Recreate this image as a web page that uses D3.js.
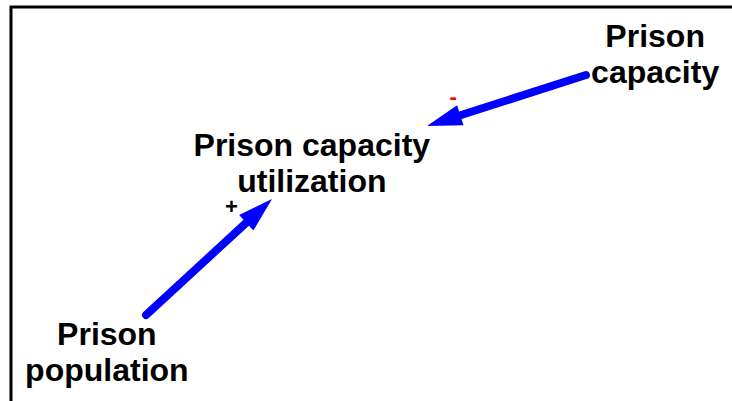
<!DOCTYPE html>
<html lang="en">
<head>
    <meta charset="UTF-8">
    <title>Prison capacity</title>
    <script src="https://cdn.jsdelivr.net/npm/d3@7"></script>
    <style>
        body { margin: 0; background: #fff; }
        text { font-family: "Liberation Sans", Arial, sans-serif; font-weight: bold; }
    </style>
</head>
<body>
<svg></svg>
<script>
    var width = 732;
    var height = 401;

    // variables of the loop diagram (x, y in percent of the page, y = first baseline)
    var nodeLabels = [["Prison", "capacity"], ["Prison capacity", "utilization"], ["Prison", "population"]];
    var nodeX = [89.5, 42.6, 14.6];
    var nodeY = [11.7, 38.9, 86.0];

    // causal links: tail and tip in percent, and polarity
    var linkFrom = [[80.05, 18.7], [19.95, 78.55]];
    var linkTo = [[58.33, 31.42], [37.16, 49.63]];
    var linkSign = ["-", "+"];
    var signPos = [[61.9, 24.1], [31.6, 51.4]];

    var svg = d3.select('svg')
                    .attr('width', width)
                    .attr('height', height);

    var x = d3.scaleLinear().domain([0, 100]).range([0, width]);
    var y = d3.scaleLinear().domain([0, 100]).range([0, height]);

    // frame (only top and left edges show)
    svg.append("path")
        .attr("d", "M11," + height + " L11,7 L" + width + ",7")
        .attr("fill", "none")
        .attr("stroke", "#000")
        .attr("stroke-width", 3);

    var headLen = 35, headHalf = 10.5;

    linkFrom.forEach(function(f, i) {
        var x0 = x(f[0]), y0 = y(f[1]);
        var x1 = x(linkTo[i][0]), y1 = y(linkTo[i][1]);
        var dx = x1 - x0, dy = y1 - y0;
        var len = Math.sqrt(dx * dx + dy * dy);
        var ux = dx / len, uy = dy / len;
        var bx = x1 - ux * headLen, by = y1 - uy * headLen;
        svg.append("line")
            .attr("x1", x0).attr("y1", y0)
            .attr("x2", bx + ux * 4).attr("y2", by + uy * 4)
            .attr("stroke", "#0000ff")
            .attr("stroke-width", 8)
            .attr("stroke-linecap", "round");
        svg.append("polygon")
            .attr("points", [
                [x1, y1],
                [bx - uy * headHalf, by + ux * headHalf],
                [bx + uy * headHalf, by - ux * headHalf]
            ].join(" "))
            .attr("fill", "#0000ff");
        svg.append("text")
            .attr("x", x(signPos[i][0]))
            .attr("y", y(signPos[i][1]))
            .attr("text-anchor", "middle")
            .attr("dominant-baseline", "central")
            .style("font-size", "22px")
            .style("fill", linkSign[i] == "-" ? "#ff0000" : "#000")
            .text(linkSign[i]);
    });

    nodeLabels.forEach(function(lines, i) {
        var t = svg.append("text")
            .attr("x", x(nodeX[i]))
            .attr("y", y(nodeY[i]))
            .attr("text-anchor", "middle")
            .style("font-size", "32px");
        lines.forEach(function(s, j) {
            t.append("tspan")
                .attr("x", x(nodeX[i]))
                .attr("dy", j == 0 ? 0 : 36)
                .text(s);
        });
    });
</script>
</body>
</html>
